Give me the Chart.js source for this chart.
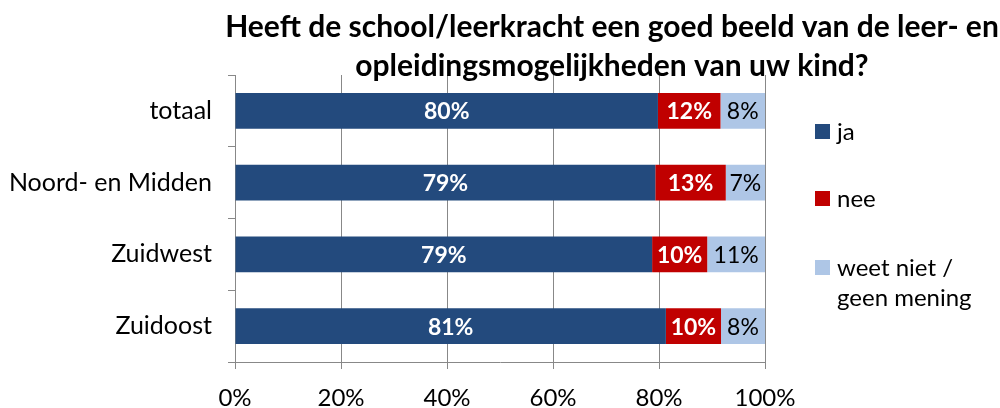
<!DOCTYPE html>
<html>
<head>
<meta charset="utf-8">
<script src="https://cdn.jsdelivr.net/npm/chart.js@4/dist/chart.umd.min.js"></script>
<style>
html,body{margin:0;padding:0;background:#fff;}
#wrap{position:relative;width:1000px;height:408px;}
</style>
</head>
<body>
<div id="wrap"><canvas id="c" width="1000" height="408"></canvas></div>
<script>
const categories = ['totaal', 'Noord- en Midden', 'Zuidwest', 'Zuidoost'];
const seriesNames = ['ja', 'nee', 'weet niet / geen mening'];
const ja = [79.8, 79.3, 78.7, 81.3];
const nee = [11.8, 13.3, 10.4, 10.4];
const weetNiet = [8.4, 7.4, 10.9, 8.3];
const xTicks = [0, 20, 40, 60, 80, 100];
const titleLines = ['Heeft de school/leerkracht een goed beeld van de leer- en', 'opleidingsmogelijkheden van uw kind?'];
const legendLines = [['ja'], ['nee'], ['weet niet /', 'geen mening']];

const colors = ['#234A7D', '#C00000', '#AEC6E6'];
const labelColors = ['#ffffff', '#ffffff', '#000000'];
const labelWeights = ['bold', 'bold', 'normal'];
const FONT = 'Lato, "Open Sans", sans-serif';
const GRID = '#888888';

const titlePlugin = {
  id: 'customTitle',
  afterDraw(chart) {
    const ctx = chart.ctx;
    ctx.save();
    ctx.font = 'bold 30px ' + FONT;
    ctx.fillStyle = '#000';
    ctx.textAlign = 'center';
    ctx.textBaseline = 'alphabetic';
    ctx.fillText(titleLines[0], 612, 37);
    ctx.fillText(titleLines[1], 612, 76);
    ctx.restore();
  }
};

const dataLabelPlugin = {
  id: 'dataLabels',
  afterDatasetsDraw(chart) {
    const ctx = chart.ctx;
    ctx.save();
    ctx.textAlign = 'center';
    ctx.textBaseline = 'middle';
    chart.data.datasets.forEach((ds, di) => {
      const meta = chart.getDatasetMeta(di);
      ctx.font = labelWeights[di] + ' 23px ' + FONT;
      ctx.fillStyle = labelColors[di];
      meta.data.forEach((bar, i) => {
        const cx = (bar.x + bar.base) / 2;
        ctx.fillText(Math.round(ds.data[i]) + '%', cx, bar.y + 1);
      });
    });
    ctx.restore();
  }
};

const legendPlugin = {
  id: 'sideLegend',
  afterDraw(chart) {
    const ctx = chart.ctx;
    ctx.save();
    const ys = [131, 198, 267];
    ctx.font = '24px ' + FONT;
    ctx.textBaseline = 'middle';
    ctx.textAlign = 'left';
    legendLines.forEach((lines, i) => {
      ctx.fillStyle = colors[i];
      ctx.fillRect(815, ys[i] - 7, 15, 15);
      ctx.fillStyle = '#000';
      lines.forEach((t, j) => ctx.fillText(t, 837, ys[i] + 1 + j * 30));
    });
    ctx.restore();
  }
};

const datasets = [ja, nee, weetNiet].map((d, i) => ({
  label: seriesNames[i],
  data: d,
  backgroundColor: colors[i],
  borderWidth: 0,
  barPercentage: 0.5,
  categoryPercentage: 1.0
}));

new Chart(document.getElementById('c'), {
  type: 'bar',
  data: { labels: categories, datasets },
  options: {
    indexAxis: 'y',
    responsive: false,
    animation: false,
    layout: { padding: { top: 75, right: 235, left: 0, bottom: 0 } },
    plugins: { legend: { display: false }, title: { display: false }, tooltip: { enabled: false } },
    scales: {
      x: {
        stacked: true,
        min: 0, max: 100,
        afterBuildTicks(scale) { scale.ticks = xTicks.map(v => ({ value: v })); },
        afterFit(scale) { scale.height = 46; },
        ticks: { callback: v => v + '%', font: { family: FONT, size: 24 }, color: '#000', padding: 15, maxRotation: 0 },
        grid: { color: GRID, lineWidth: 1, tickLength: 7, drawTicks: true },
        border: { color: GRID, width: 1 }
      },
      y: {
        stacked: true,
        afterFit(scale) { scale.width = 235; },
        ticks: { font: { family: FONT, size: 25 }, color: '#000', padding: 16 },
        grid: { offset: true, drawOnChartArea: false, color: GRID, tickLength: 7, drawTicks: true },
        border: { color: GRID, width: 1 }
      }
    }
  },
  plugins: [titlePlugin, dataLabelPlugin, legendPlugin]
});
</script>
</body>
</html>
